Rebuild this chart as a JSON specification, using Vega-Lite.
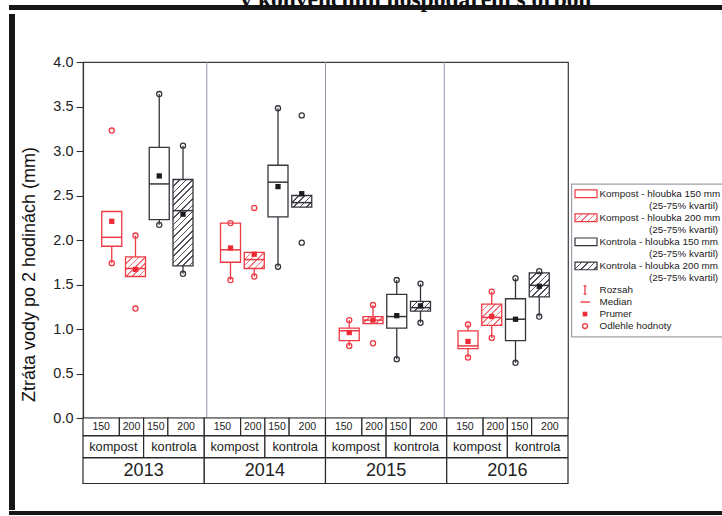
{
  "$schema": "https://vega.github.io/schema/vega-lite/v6.json",
  "padding": {"left": 9, "top": -12, "right": 0, "bottom": 0},
  "background": "white",
  "title": {"text": "v konvenčním hospodaření s orbou", "font": "Liberation Serif", "fontSize": 23.5, "fontWeight": "bold", "color": "#111", "anchor": "middle", "dx": 50, "offset": -7},
  "config": {"font": "Liberation Sans", "view": {"stroke": null}},
  "datasets": {
    "boxes": [
      {"year": 2013, "treatment": "kompost", "depth": 150, "q1": 1.93, "q3": 2.32, "median": 2.03, "mean": 2.21, "lo": 1.74, "hi": 2.32},
      {"year": 2013, "treatment": "kompost", "depth": 200, "q1": 1.59, "q3": 1.81, "median": 1.68, "mean": 1.67, "lo": 1.59, "hi": 2.05},
      {"year": 2013, "treatment": "kontrola", "depth": 150, "q1": 2.23, "q3": 3.04, "median": 2.63, "mean": 2.72, "lo": 2.17, "hi": 3.64},
      {"year": 2013, "treatment": "kontrola", "depth": 200, "q1": 1.71, "q3": 2.68, "median": 2.33, "mean": 2.29, "lo": 1.62, "hi": 3.06},
      {"year": 2014, "treatment": "kompost", "depth": 150, "q1": 1.75, "q3": 2.19, "median": 1.89, "mean": 1.91, "lo": 1.55, "hi": 2.19},
      {"year": 2014, "treatment": "kompost", "depth": 200, "q1": 1.68, "q3": 1.86, "median": 1.78, "mean": 1.84, "lo": 1.59, "hi": 1.86},
      {"year": 2014, "treatment": "kontrola", "depth": 150, "q1": 2.26, "q3": 2.84, "median": 2.65, "mean": 2.60, "lo": 1.70, "hi": 3.48},
      {"year": 2014, "treatment": "kontrola", "depth": 200, "q1": 2.37, "q3": 2.50, "median": 2.42, "mean": 2.52, "lo": 2.37, "hi": 2.50},
      {"year": 2015, "treatment": "kompost", "depth": 150, "q1": 0.87, "q3": 1.01, "median": 0.98, "mean": 0.96, "lo": 0.81, "hi": 1.10},
      {"year": 2015, "treatment": "kompost", "depth": 200, "q1": 1.06, "q3": 1.14, "median": 1.10, "mean": 1.10, "lo": 1.06, "hi": 1.27},
      {"year": 2015, "treatment": "kontrola", "depth": 150, "q1": 1.01, "q3": 1.39, "median": 1.14, "mean": 1.15, "lo": 0.66, "hi": 1.55},
      {"year": 2015, "treatment": "kontrola", "depth": 200, "q1": 1.20, "q3": 1.31, "median": 1.24, "mean": 1.26, "lo": 1.07, "hi": 1.51},
      {"year": 2016, "treatment": "kompost", "depth": 150, "q1": 0.78, "q3": 0.98, "median": 0.81, "mean": 0.86, "lo": 0.68, "hi": 1.05},
      {"year": 2016, "treatment": "kompost", "depth": 200, "q1": 1.04, "q3": 1.28, "median": 1.13, "mean": 1.14, "lo": 0.90, "hi": 1.42},
      {"year": 2016, "treatment": "kontrola", "depth": 150, "q1": 0.87, "q3": 1.34, "median": 1.11, "mean": 1.11, "lo": 0.62, "hi": 1.57},
      {"year": 2016, "treatment": "kontrola", "depth": 200, "q1": 1.36, "q3": 1.63, "median": 1.49, "mean": 1.48, "lo": 1.14, "hi": 1.65}
    ],
    "points": [
      {"year": 2013, "treatment": "kompost", "depth": 150, "value": 1.74},
      {"year": 2013, "treatment": "kompost", "depth": 150, "value": 3.23},
      {"year": 2013, "treatment": "kompost", "depth": 200, "value": 2.05},
      {"year": 2013, "treatment": "kompost", "depth": 200, "value": 1.23},
      {"year": 2013, "treatment": "kontrola", "depth": 150, "value": 3.64},
      {"year": 2013, "treatment": "kontrola", "depth": 150, "value": 2.17},
      {"year": 2013, "treatment": "kontrola", "depth": 200, "value": 3.06},
      {"year": 2013, "treatment": "kontrola", "depth": 200, "value": 1.62},
      {"year": 2014, "treatment": "kompost", "depth": 150, "value": 2.19},
      {"year": 2014, "treatment": "kompost", "depth": 150, "value": 1.55},
      {"year": 2014, "treatment": "kompost", "depth": 200, "value": 2.36},
      {"year": 2014, "treatment": "kompost", "depth": 200, "value": 1.59},
      {"year": 2014, "treatment": "kontrola", "depth": 150, "value": 3.48},
      {"year": 2014, "treatment": "kontrola", "depth": 150, "value": 1.70},
      {"year": 2014, "treatment": "kontrola", "depth": 200, "value": 3.40},
      {"year": 2014, "treatment": "kontrola", "depth": 200, "value": 1.97},
      {"year": 2015, "treatment": "kompost", "depth": 150, "value": 1.10},
      {"year": 2015, "treatment": "kompost", "depth": 150, "value": 0.81},
      {"year": 2015, "treatment": "kompost", "depth": 200, "value": 1.27},
      {"year": 2015, "treatment": "kompost", "depth": 200, "value": 0.84},
      {"year": 2015, "treatment": "kontrola", "depth": 150, "value": 1.55},
      {"year": 2015, "treatment": "kontrola", "depth": 150, "value": 0.66},
      {"year": 2015, "treatment": "kontrola", "depth": 200, "value": 1.51},
      {"year": 2015, "treatment": "kontrola", "depth": 200, "value": 1.07},
      {"year": 2016, "treatment": "kompost", "depth": 150, "value": 1.05},
      {"year": 2016, "treatment": "kompost", "depth": 150, "value": 0.68},
      {"year": 2016, "treatment": "kompost", "depth": 200, "value": 1.42},
      {"year": 2016, "treatment": "kompost", "depth": 200, "value": 0.90},
      {"year": 2016, "treatment": "kontrola", "depth": 150, "value": 1.57},
      {"year": 2016, "treatment": "kontrola", "depth": 150, "value": 0.62},
      {"year": 2016, "treatment": "kontrola", "depth": 200, "value": 1.65},
      {"year": 2016, "treatment": "kontrola", "depth": 200, "value": 1.14}
    ],
    "legend": [
      {"label": "Kompost - hloubka 150 mm", "sub": "(25-75% kvartil)", "treatment": "kompost", "depth": 150},
      {"label": "Kompost - hloubka 200 mm", "sub": "(25-75% kvartil)", "treatment": "kompost", "depth": 200},
      {"label": "Kontrola - hloubka 150 mm", "sub": "(25-75% kvartil)", "treatment": "kontrola", "depth": 150},
      {"label": "Kontrola - hloubka 200 mm", "sub": "(25-75% kvartil)", "treatment": "kontrola", "depth": 200},
      {"label": "Rozsah"},
      {"label": "Median"},
      {"label": "Prumer"},
      {"label": "Odlehle hodnoty"}
    ]
  },
  "spacing": 0,
  "vconcat": [
    {
      "width": 713, "height": 5,
      "view": {"fill": "#161616", "stroke": null},
      "data": {"values": [{}]},
      "mark": {"type": "point", "opacity": 0},
      "encoding": {}
    },
    {
      "spacing": 5,
      "hconcat": [
        {
          "width": 6, "height": 496,
          "view": {"fill": "#161616", "stroke": null},
          "data": {"values": [{}]},
          "mark": {"type": "point", "opacity": 0},
          "encoding": {}
        },
        {
          "spacing": 2,
          "hconcat": [
            {
              "spacing": 35,
              "vconcat": [
                {
                  "width": 10, "height": 1,
                  "data": {"values": [{}]},
                  "mark": {"type": "point", "opacity": 0},
                  "encoding": {}
                },
                {
                  "spacing": 0,
                  "bounds": "flush",
                  "vconcat": [
                    {
                      "width": 485, "height": 356,
                      "view": {"stroke": "#3a3a40", "strokeWidth": 1.2},
                      "data": {"name": "boxes"},
                      "transform": [
                        {"calculate": "(datum.year-2013)*5 + (datum.treatment=='kompost'?1:3) + (datum.depth==200?1:0)", "as": "pos"},
                        {"calculate": "20/127.28", "as": "c1"},
                        {"calculate": "(datum.q3-datum.q1)*89/127.28", "as": "c2"},
                        {"calculate": "datum.c1/(datum.c1*datum.c1+datum.c2*datum.c2)", "as": "gx"},
                        {"calculate": "datum.c2/(datum.c1*datum.c1+datum.c2*datum.c2)", "as": "gy"},
                        {"calculate": "datum.treatment=='kompost' ? '#f2737a' : '#505058'", "as": "hc"},
                        {"calculate": "datum.depth==200 ? {gradient:'linear',x1:0,y1:0,x2:datum.gx,y2:datum.gy,stops:[{offset:0,color:datum.hc},{offset:0.012,color:datum.hc},{offset:0.012,color:'#fff'},{offset:0.05,color:'#fff'},{offset:0.05,color:datum.hc},{offset:0.062,color:datum.hc},{offset:0.062,color:'#fff'},{offset:0.1,color:'#fff'},{offset:0.1,color:datum.hc},{offset:0.112,color:datum.hc},{offset:0.112,color:'#fff'},{offset:0.15,color:'#fff'},{offset:0.15,color:datum.hc},{offset:0.162,color:datum.hc},{offset:0.162,color:'#fff'},{offset:0.2,color:'#fff'},{offset:0.2,color:datum.hc},{offset:0.212,color:datum.hc},{offset:0.212,color:'#fff'},{offset:0.25,color:'#fff'},{offset:0.25,color:datum.hc},{offset:0.262,color:datum.hc},{offset:0.262,color:'#fff'},{offset:0.3,color:'#fff'},{offset:0.3,color:datum.hc},{offset:0.312,color:datum.hc},{offset:0.312,color:'#fff'},{offset:0.35,color:'#fff'},{offset:0.35,color:datum.hc},{offset:0.362,color:datum.hc},{offset:0.362,color:'#fff'},{offset:0.4,color:'#fff'},{offset:0.4,color:datum.hc},{offset:0.412,color:datum.hc},{offset:0.412,color:'#fff'},{offset:0.45,color:'#fff'},{offset:0.45,color:datum.hc},{offset:0.462,color:datum.hc},{offset:0.462,color:'#fff'},{offset:0.5,color:'#fff'},{offset:0.5,color:datum.hc},{offset:0.512,color:datum.hc},{offset:0.512,color:'#fff'},{offset:0.55,color:'#fff'},{offset:0.55,color:datum.hc},{offset:0.562,color:datum.hc},{offset:0.562,color:'#fff'},{offset:0.6,color:'#fff'},{offset:0.6,color:datum.hc},{offset:0.612,color:datum.hc},{offset:0.612,color:'#fff'},{offset:0.65,color:'#fff'},{offset:0.65,color:datum.hc},{offset:0.662,color:datum.hc},{offset:0.662,color:'#fff'},{offset:0.7,color:'#fff'},{offset:0.7,color:datum.hc},{offset:0.712,color:datum.hc},{offset:0.712,color:'#fff'},{offset:0.75,color:'#fff'},{offset:0.75,color:datum.hc},{offset:0.762,color:datum.hc},{offset:0.762,color:'#fff'},{offset:0.8,color:'#fff'},{offset:0.8,color:datum.hc},{offset:0.812,color:datum.hc},{offset:0.812,color:'#fff'},{offset:0.85,color:'#fff'},{offset:0.85,color:datum.hc},{offset:0.862,color:datum.hc},{offset:0.862,color:'#fff'},{offset:0.9,color:'#fff'},{offset:0.9,color:datum.hc},{offset:0.912,color:datum.hc},{offset:0.912,color:'#fff'},{offset:0.95,color:'#fff'},{offset:0.95,color:datum.hc},{offset:0.962,color:datum.hc},{offset:0.962,color:'#fff'},{offset:1,color:'#fff'}]} : 'white'", "as": "hatch"}
                      ],
                      "layer": [
                        {
                          "transform": [
                            {"filter": "datum.year > 2013 && datum.treatment=='kompost' && datum.depth==150"},
                            {"calculate": "(datum.year-2013)*5", "as": "sep"}
                          ],
                          "mark": {"type": "rule", "color": "#9096a6", "strokeWidth": 1},
                          "encoding": {
                            "x": {"field": "sep", "type": "quantitative", "scale": {"domain": [0, 20], "nice": false, "zero": false}, "axis": null}
                          }
                        },
                        {
                          "mark": {"type": "rule", "strokeWidth": 1.3},
                          "encoding": {
                            "x": {"field": "pos", "type": "quantitative", "axis": null},
                            "y": {
                              "field": "lo", "type": "quantitative",
                              "title": "Ztráta vody po 2 hodinách (mm)",
                              "scale": {"domain": [0, 4], "nice": false, "zero": true},
                              "axis": {
                                "values": [0, 0.25, 0.5, 0.75, 1, 1.25, 1.5, 1.75, 2, 2.25, 2.5, 2.75, 3, 3.25, 3.5, 3.75, 4],
                                "labelExpr": "datum.value % 0.5 == 0 ? format(datum.value, '.1f') : ''",
                                "labelOverlap": false,
                                "tickSize": {"condition": {"test": "datum.value % 0.5 == 0", "value": 7}, "value": 4},
                                "labelFontSize": 14.5,
                                "labelColor": "#222",
                                "labelPadding": 3,
                                "tickColor": "#333",
                                "tickWidth": 1.1,
                                "domainColor": "#333",
                                "domainWidth": 1.2,
                                "grid": false,
                                "titleFontSize": 18,
                                "titleFontWeight": "normal",
                                "titleColor": "#111",
                                "titlePadding": 14,
                                "titleY": 212
                              }
                            },
                            "y2": {"field": "hi"},
                            "color": {"field": "treatment", "type": "nominal", "scale": {"domain": ["kompost", "kontrola"], "range": ["#ee3a44", "#35353c"]}, "legend": null}
                          }
                        },
                        {
                          "mark": {"type": "bar", "size": 20, "orient": "vertical", "strokeWidth": 1.3},
                          "encoding": {
                            "x": {"field": "pos", "type": "quantitative", "axis": null},
                            "y": {"field": "q1", "type": "quantitative", "title": "Ztráta vody po 2 hodinách (mm)"},
                            "y2": {"field": "q3"},
                            "fill": {"field": "hatch", "type": "nominal", "scale": null},
                            "stroke": {"field": "treatment", "type": "nominal", "scale": {"domain": ["kompost", "kontrola"], "range": ["#ee3a44", "#35353c"]}, "legend": null}
                          }
                        },
                        {
                          "mark": {"type": "tick", "orient": "horizontal", "size": 20, "thickness": 1.5, "opacity": 1},
                          "encoding": {
                            "x": {"field": "pos", "type": "quantitative", "axis": null},
                            "y": {"field": "median", "type": "quantitative", "title": "Ztráta vody po 2 hodinách (mm)"},
                            "color": {"field": "treatment", "type": "nominal", "scale": {"domain": ["kompost", "kontrola"], "range": ["#ee3a44", "#35353c"]}, "legend": null}
                          }
                        },
                        {
                          "mark": {"type": "square", "size": 28, "opacity": 1},
                          "encoding": {
                            "x": {"field": "pos", "type": "quantitative", "axis": null},
                            "y": {"field": "mean", "type": "quantitative", "title": "Ztráta vody po 2 hodinách (mm)"},
                            "fill": {"field": "treatment", "type": "nominal", "scale": {"domain": ["kompost", "kontrola"], "range": ["#ee2a36", "#1c1c20"]}, "legend": null}
                          }
                        },
                        {
                          "data": {"name": "points"},
                          "transform": [
                            {"calculate": "(datum.year-2013)*5 + (datum.treatment=='kompost'?1:3) + (datum.depth==200?1:0)", "as": "pos"}
                          ],
                          "mark": {"type": "point", "shape": "circle", "filled": false, "size": 26, "strokeWidth": 1.3, "opacity": 1},
                          "encoding": {
                            "x": {"field": "pos", "type": "quantitative", "axis": null},
                            "y": {"field": "value", "type": "quantitative", "title": "Ztráta vody po 2 hodinách (mm)"},
                            "color": {"field": "treatment", "type": "nominal", "scale": {"domain": ["kompost", "kontrola"], "range": ["#ee3a44", "#35353c"]}, "legend": null}
                          }
                        }
                      ]
                    },
                    {
                      "width": 485, "height": 17.5,
                      "data": {"name": "boxes"},
                      "transform": [
                        {"calculate": "(datum.year-2013)*5", "as": "ys"},
                        {"calculate": "datum.ys + (datum.treatment=='kompost'?1:3) + (datum.depth==200?1:0)", "as": "pos"},
                        {"calculate": "datum.pos - datum.ys == 1 ? datum.ys : datum.pos - 0.5", "as": "lo"},
                        {"calculate": "datum.pos - datum.ys == 4 ? datum.ys + 5 : datum.pos + 0.5", "as": "hi"},
                        {"calculate": "(datum.lo + datum.hi) / 2", "as": "mid"}
                      ],
                      "layer": [
                        {
                          "mark": {"type": "rect", "fill": "white", "stroke": "#2a2a2a", "strokeWidth": 1.2},
                          "encoding": {
                            "x": {"field": "lo", "type": "quantitative", "scale": {"domain": [0, 20], "nice": false, "zero": false}, "axis": null},
                            "x2": {"field": "hi"}
                          }
                        },
                        {
                          "mark": {"type": "text", "fontSize": 10.5, "color": "#222"},
                          "encoding": {
                            "x": {"field": "mid", "type": "quantitative", "axis": null},
                            "text": {"field": "depth", "type": "nominal"}
                          }
                        }
                      ]
                    },
                    {
                      "width": 485, "height": 21.5,
                      "data": {"name": "boxes"},
                      "transform": [
                        {"filter": "datum.depth == 150"},
                        {"calculate": "(datum.year-2013)*5 + (datum.treatment=='kompost' ? 0 : 2.5)", "as": "lo"},
                        {"calculate": "datum.lo + 2.5", "as": "hi"},
                        {"calculate": "(datum.lo + datum.hi) / 2", "as": "mid"}
                      ],
                      "layer": [
                        {
                          "mark": {"type": "rect", "fill": "white", "stroke": "#2a2a2a", "strokeWidth": 1.2},
                          "encoding": {
                            "x": {"field": "lo", "type": "quantitative", "scale": {"domain": [0, 20], "nice": false, "zero": false}, "axis": null},
                            "x2": {"field": "hi"}
                          }
                        },
                        {
                          "mark": {"type": "text", "fontSize": 12.8, "color": "#222"},
                          "encoding": {
                            "x": {"field": "mid", "type": "quantitative", "axis": null},
                            "text": {"field": "treatment", "type": "nominal"}
                          }
                        }
                      ]
                    },
                    {
                      "width": 485, "height": 25.5,
                      "data": {"name": "boxes"},
                      "transform": [
                        {"filter": "datum.depth == 150 && datum.treatment == 'kompost'"},
                        {"calculate": "(datum.year-2013)*5", "as": "lo"},
                        {"calculate": "datum.lo + 5", "as": "hi"},
                        {"calculate": "(datum.lo + datum.hi) / 2", "as": "mid"}
                      ],
                      "layer": [
                        {
                          "mark": {"type": "rect", "fill": "white", "stroke": "#2a2a2a", "strokeWidth": 1.2},
                          "encoding": {
                            "x": {"field": "lo", "type": "quantitative", "scale": {"domain": [0, 20], "nice": false, "zero": false}, "axis": null},
                            "x2": {"field": "hi"}
                          }
                        },
                        {
                          "mark": {"type": "text", "fontSize": 18, "color": "#222"},
                          "encoding": {
                            "x": {"field": "mid", "type": "quantitative", "axis": null},
                            "text": {"field": "year", "type": "nominal"}
                          }
                        }
                      ]
                    }
                  ]
                }
              ]
            },
            {
              "width": 152, "height": 330,
              "data": {"name": "legend"},
              "transform": [
                {"window": [{"op": "row_number", "as": "idx"}]},
                {"calculate": "datum.idx <= 4 ? (datum.idx - 1) * 2 : datum.idx + 3", "as": "line"},
                {"calculate": "datum.line - 0.32", "as": "y0"},
                {"calculate": "datum.line + 0.32", "as": "y1"},
                {"calculate": "datum.line + 1", "as": "subline"},
                {"calculate": "22/127.28", "as": "c1"},
                {"calculate": "7.7/127.28", "as": "c2"},
                {"calculate": "datum.c1/(datum.c1*datum.c1+datum.c2*datum.c2)", "as": "gx"},
                {"calculate": "datum.c2/(datum.c1*datum.c1+datum.c2*datum.c2)", "as": "gy"},
                {"calculate": "datum.treatment=='kompost' ? '#f2737a' : '#505058'", "as": "hc"},
                {"calculate": "datum.depth==200 ? {gradient:'linear',x1:0,y1:0,x2:datum.gx,y2:datum.gy,stops:[{offset:0,color:datum.hc},{offset:0.012,color:datum.hc},{offset:0.012,color:'#fff'},{offset:0.05,color:'#fff'},{offset:0.05,color:datum.hc},{offset:0.062,color:datum.hc},{offset:0.062,color:'#fff'},{offset:0.1,color:'#fff'},{offset:0.1,color:datum.hc},{offset:0.112,color:datum.hc},{offset:0.112,color:'#fff'},{offset:0.15,color:'#fff'},{offset:0.15,color:datum.hc},{offset:0.162,color:datum.hc},{offset:0.162,color:'#fff'},{offset:0.2,color:'#fff'},{offset:0.2,color:datum.hc},{offset:0.212,color:datum.hc},{offset:0.212,color:'#fff'},{offset:0.25,color:'#fff'},{offset:0.25,color:datum.hc},{offset:0.262,color:datum.hc},{offset:0.262,color:'#fff'},{offset:0.3,color:'#fff'},{offset:0.3,color:datum.hc},{offset:0.312,color:datum.hc},{offset:0.312,color:'#fff'},{offset:0.35,color:'#fff'},{offset:0.35,color:datum.hc},{offset:0.362,color:datum.hc},{offset:0.362,color:'#fff'},{offset:0.4,color:'#fff'},{offset:0.4,color:datum.hc},{offset:0.412,color:datum.hc},{offset:0.412,color:'#fff'},{offset:0.45,color:'#fff'},{offset:0.45,color:datum.hc},{offset:0.462,color:datum.hc},{offset:0.462,color:'#fff'},{offset:0.5,color:'#fff'}]} : 'white'", "as": "hatch"}
              ],
              "layer": [
                {
                  "transform": [{"filter": "datum.idx == 1"}],
                  "mark": {"type": "rect", "fill": "white", "stroke": "#a0a0a8", "strokeWidth": 1.2, "clip": true},
                  "encoding": {
                    "x": {"datum": 0.6, "type": "quantitative", "scale": {"domain": [0, 152], "nice": false, "zero": false}, "axis": null},
                    "x2": {"datum": 170},
                    "y": {"datum": -0.8, "type": "quantitative", "scale": {"domain": [-14.94, 12.49], "reverse": true, "nice": false, "zero": false}, "axis": null},
                    "y2": {"datum": 11.9}
                  }
                },
                {
                  "transform": [{"filter": "isValid(datum.depth)"}],
                  "mark": {"type": "rect", "strokeWidth": 1.2},
                  "encoding": {
                    "x": {"datum": 4, "type": "quantitative", "axis": null},
                    "x2": {"datum": 26},
                    "y": {"field": "y0", "type": "quantitative", "axis": null},
                    "y2": {"field": "y1"},
                    "fill": {"field": "hatch", "type": "nominal", "scale": null},
                    "stroke": {"field": "treatment", "type": "nominal", "scale": {"domain": ["kompost", "kontrola"], "range": ["#ee3a44", "#35353c"]}, "legend": null}
                  }
                },
                {
                  "mark": {"type": "text", "align": "left", "baseline": "middle", "fontSize": 9.9, "color": "#222", "clip": true},
                  "encoding": {
                    "x": {"datum": 28.5, "type": "quantitative", "axis": null},
                    "y": {"field": "line", "type": "quantitative", "axis": null},
                    "text": {"field": "label", "type": "nominal"}
                  }
                },
                {
                  "transform": [{"filter": "isValid(datum.sub)"}],
                  "mark": {"type": "text", "align": "left", "baseline": "middle", "fontSize": 9.9, "color": "#222", "clip": true},
                  "encoding": {
                    "x": {"datum": 78, "type": "quantitative", "axis": null},
                    "y": {"field": "subline", "type": "quantitative", "axis": null},
                    "text": {"field": "sub", "type": "nominal"}
                  }
                },
                {
                  "transform": [{"filter": "datum.label == 'Rozsah'"}],
                  "mark": {"type": "point", "shape": "M-0.35,-1L0.35,-1M0,-1L0,1M-0.35,1L0.35,1", "filled": false, "size": 70, "strokeWidth": 1.3, "color": "#ee3a44", "opacity": 1},
                  "encoding": {
                    "x": {"datum": 14, "type": "quantitative", "axis": null},
                    "y": {"field": "line", "type": "quantitative", "axis": null}
                  }
                },
                {
                  "transform": [{"filter": "datum.label == 'Median'"}],
                  "mark": {"type": "rule", "strokeWidth": 1.4, "color": "#ee3a44"},
                  "encoding": {
                    "x": {"datum": 9.5, "type": "quantitative", "axis": null},
                    "x2": {"datum": 19},
                    "y": {"field": "line", "type": "quantitative", "axis": null}
                  }
                },
                {
                  "transform": [{"filter": "datum.label == 'Prumer'"}],
                  "mark": {"type": "square", "size": 22, "color": "#ee2a36", "opacity": 1},
                  "encoding": {
                    "x": {"datum": 14, "type": "quantitative", "axis": null},
                    "y": {"field": "line", "type": "quantitative", "axis": null}
                  }
                },
                {
                  "transform": [{"filter": "datum.label == 'Odlehle hodnoty'"}],
                  "mark": {"type": "point", "shape": "circle", "filled": false, "size": 24, "strokeWidth": 1.3, "color": "#ee3a44", "opacity": 1},
                  "encoding": {
                    "x": {"datum": 14, "type": "quantitative", "axis": null},
                    "y": {"field": "line", "type": "quantitative", "axis": null}
                  }
                }
              ]
            }
          ]
        }
      ]
    },
    {
      "width": 713, "height": 4,
      "view": {"fill": "#161616", "stroke": null},
      "data": {"values": [{}]},
      "mark": {"type": "point", "opacity": 0},
      "encoding": {}
    }
  ]
}
